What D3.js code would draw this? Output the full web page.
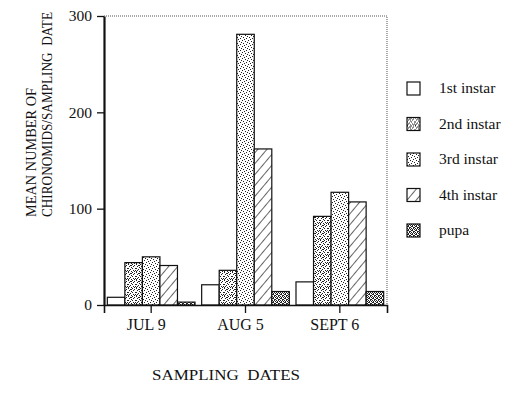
<!DOCTYPE html>
<html>
<head>
<meta charset="utf-8">
<script src="https://cdn.jsdelivr.net/npm/d3@7"></script>
<style>
  body { margin: 0; background: #fff; }
  svg text { font-family: "Liberation Serif", "DejaVu Serif", serif !important; fill: #111; }
</style>
</head>
<body>
<div id="chart"></div>
<script>
const dates = ["JUL 9", "AUG 5", "SEPT 6"];
const stages = ["1st instar", "2nd instar", "3rd instar", "4th instar", "pupa"];
const firstInstar = [8, 21, 24];
const secondInstar = [44, 36, 92];
const thirdInstar = [50, 281, 117];
const fourthInstar = [41, 162, 107];
const pupa = [3, 14, 14];
const yTicks = [0, 100, 200, 300];

const seriesValues = [firstInstar, secondInstar, thirdInstar, fourthInstar, pupa];

const margin = {top: 16, right: 133, bottom: 98, left: 104};
const W = 520, H = 403;
const width = W - margin.left - margin.right;
const height = H - margin.top - margin.bottom;

const svg = d3.select("#chart").append("svg")
  .attr("width", W).attr("height", H);

// fill patterns
const defs = svg.append("defs");
function stipple(id, dots, size) {
  const p = defs.append("pattern").attr("id", id)
    .attr("patternUnits", "userSpaceOnUse").attr("width", size).attr("height", size);
  p.append("rect").attr("width", size).attr("height", size).attr("fill", "#fff");
  dots.forEach(d => p.append("rect").attr("x", d[0]).attr("y", d[1])
    .attr("width", 1).attr("height", 1).attr("fill", "#222"));
}
// 2nd instar: dense mottled stipple
stipple("p2", [[0,0],[2,1],[4,0],[1,2],[3,3],[5,2],[0,4],[2,5],[4,4],[1,6],[5,6],[3,7],[6,1],[7,4],[6,7],[0,7],[3,1],[7,6]], 8);
// 3rd instar: lighter regular dots
stipple("p3", [[0,0],[3,1],[1,3],[4,4],[2,5],[5,2]], 6);
// pupa: dense stipple
stipple("p5", [[0,0],[2,0],[1,1],[3,1],[0,2],[2,3],[1,4],[3,3],[0,5],[2,5],[3,4],[1,2]], 4);
const hatch = defs.append("pattern").attr("id", "p4")
  .attr("patternUnits", "userSpaceOnUse").attr("width", 7).attr("height", 7)
  .attr("patternTransform", "rotate(40)");
hatch.append("rect").attr("width", 7).attr("height", 7).attr("fill", "#fff");
hatch.append("line").attr("x1", 0).attr("y1", 0).attr("x2", 0).attr("y2", 7)
  .attr("stroke", "#111").attr("stroke-width", 1.3);

const fills = ["#fff", "url(#p2)", "url(#p3)", "url(#p4)", "url(#p5)"];

const g = svg.append("g").attr("transform", `translate(${margin.left},${margin.top})`);

const x0 = d3.scaleBand().domain(dates).range([0, width]).padding(0);
const x1 = d3.scaleBand().domain(stages).range([0, x0.bandwidth()]).paddingInner(0).paddingOuter(0.19);
const y = d3.scaleLinear().domain([0, 300]).range([height, 0]);

// frame top/right
g.append("path")
  .attr("d", `M0,0H${width}V${height}`)
  .attr("fill", "none").attr("stroke", "#555").attr("stroke-width", 1)
  .attr("stroke-dasharray", "1,1");

// bars
const rows = [];
dates.forEach((d, i) => stages.forEach((s, j) => rows.push({date: d, stage: s, j, value: seriesValues[j][i]})));
g.selectAll("rect.bar")
  .data(rows)
  .join("rect")
  .attr("class", "bar")
  .attr("x", d => x0(d.date) + x1(d.stage))
  .attr("y", d => y(d.value))
  .attr("width", x1.bandwidth())
  .attr("height", d => height - y(d.value))
  .attr("fill", d => fills[d.j])
  .attr("stroke", "#111")
  .attr("stroke-width", 1.2);

// axes
const xAxis = d3.axisBottom(x0).tickSize(8).tickPadding(6);
const xg = g.append("g").attr("transform", `translate(0,${height})`).call(xAxis);
xg.attr("font-family", null);
xg.select(".domain").attr("stroke", "#111").attr("stroke-width", 1.6);
xg.selectAll(".tick line").attr("stroke", "#111").attr("stroke-width", 1.3);
xg.selectAll("text").style("font-size", "16px").attr("dx", -5);

const yAxis = d3.axisLeft(y).tickValues(yTicks).tickSize(7).tickPadding(5).tickSizeOuter(0);
const yg = g.append("g").call(yAxis);
yg.attr("font-family", null);
yg.select(".domain").attr("stroke", "#111").attr("stroke-width", 2.2);
yg.selectAll(".tick line").attr("stroke", "#111").attr("stroke-width", 1.3);
yg.selectAll("text").style("font-size", "15.5px");

// axis titles
const yt = svg.append("text")
  .attr("transform", "translate(0,217) rotate(-90)")
  .style("font-size", "14px");
yt.append("tspan").attr("x", 0).attr("y", 36)
  .attr("textLength", 129).attr("lengthAdjust", "spacingAndGlyphs")
  .text("MEAN NUMBER OF");
yt.append("tspan").attr("x", 0).attr("y", 52)
  .attr("textLength", 205).attr("lengthAdjust", "spacingAndGlyphs")
  .text("CHIRONOMIDS/SAMPLING\u00a0\u00a0DATE");

svg.append("text")
  .attr("x", 152).attr("y", 380)
  .attr("textLength", 148).attr("lengthAdjust", "spacingAndGlyphs")
  .style("font-size", "14.5px")
  .text("SAMPLING\u00a0\u00a0DATES");

// legend
const lg = svg.append("g").attr("transform", "translate(407,82)");
const items = lg.selectAll("g").data(stages).join("g")
  .attr("transform", (d, i) => `translate(0,${i * 35.5})`);
items.append("rect")
  .attr("width", 13).attr("height", 13)
  .attr("fill", (d, i) => fills[i])
  .attr("stroke", "#111").attr("stroke-width", 1.2);
items.append("text")
  .attr("x", 32).attr("y", 11)
  .style("font-size", "15.5px")
  .text(d => d);
</script>
</body>
</html>
